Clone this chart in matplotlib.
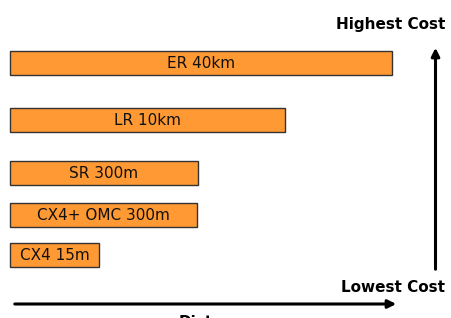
import matplotlib.pyplot as plt

labels = ['ER 40km', 'LR 10km', 'SR 300m', 'CX4+ OMC 300m', 'CX4 15m']
lengths = [382, 275, 188, 187, 89]

# layout in pixel units (452x318 canvas)
y_pos = [63, 119.5, 172.5, 214.5, 255]
bar_h = 24
x0 = 10

fig = plt.figure(figsize=(4.52, 3.18), dpi=100)
ax = fig.add_axes([0, 0, 1, 1])
ax.set_xlim(0, 452)
ax.set_ylim(318, 0)
ax.axis('off')

ax.barh(y_pos, lengths, height=bar_h, left=x0, color='#FF9933',
        edgecolor='#333333', linewidth=1)
for y, w, lab in zip(y_pos, lengths, labels):
    ax.text(x0 + w / 2, y + 1, lab, ha='center', va='center', fontsize=11,
            color='#111111')

# cost axis
ax.annotate('', xy=(435.5, 45), xytext=(435.5, 272),
            arrowprops=dict(arrowstyle='-|>', lw=2.2, color='black', mutation_scale=12))
ax.text(445, 24, 'Highest Cost', ha='right', va='center', fontsize=11, fontweight='bold')
ax.text(445, 288, 'Lowest Cost', ha='right', va='center', fontsize=11, fontweight='bold')

# distance axis (label is cut off at the bottom edge, as in the original slide)
ax.annotate('', xy=(399, 304), xytext=(12, 304),
            arrowprops=dict(arrowstyle='-|>', lw=2.2, color='black', mutation_scale=12))
ax.text(179, 315, 'Distance', ha='left', va='top', fontsize=11, fontweight='bold')

fig.savefig('out.png', dpi=100)
